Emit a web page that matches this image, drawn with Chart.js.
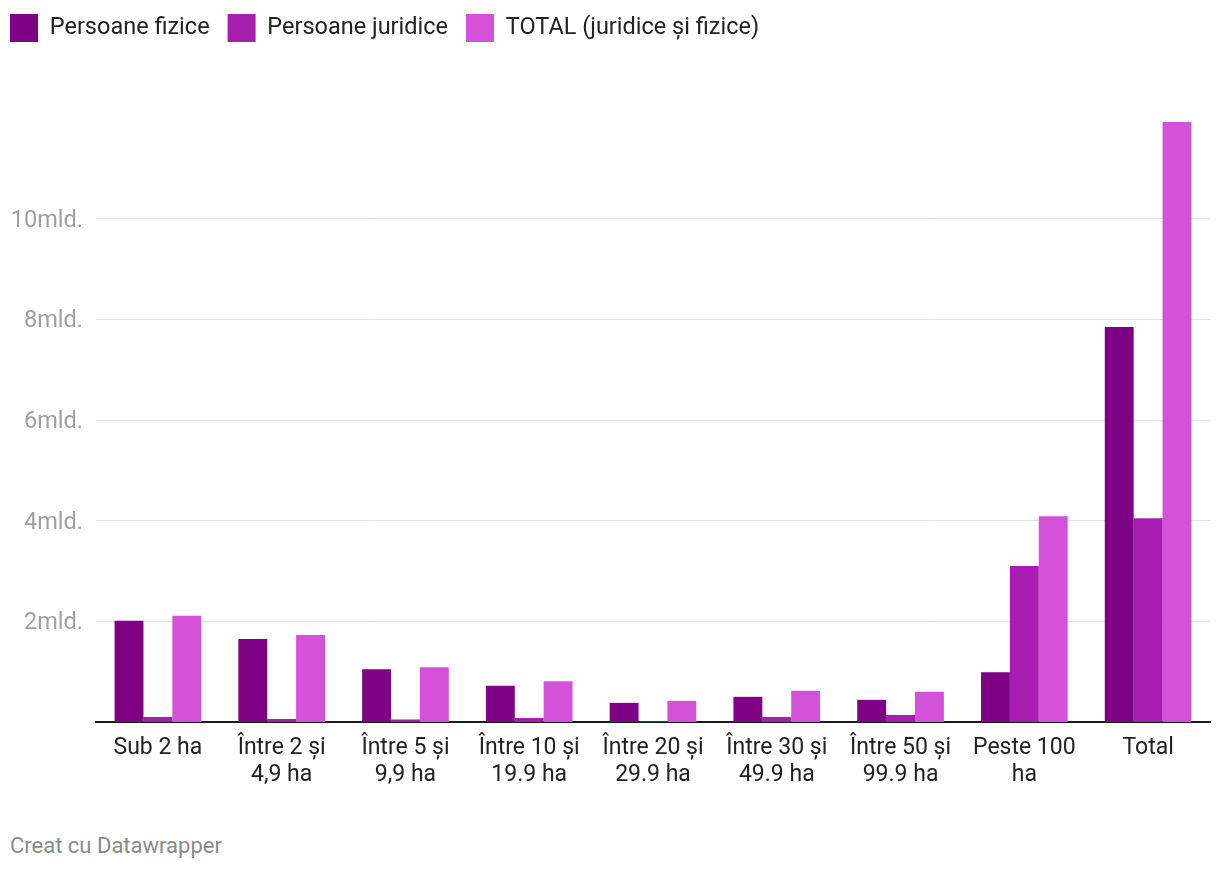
<!DOCTYPE html>
<html lang="ro">
<head>
    <meta charset="UTF-8">
    <title>Persoane fizice și juridice</title>
    <script src="https://cdn.jsdelivr.net/npm/chart.js"></script>
    <style>
        body {
            margin: 0;
            background: #ffffff;
            font-family: Roboto, 'Noto Sans', sans-serif;
            overflow: hidden;
        }
        .chart-wrap {
            position: absolute;
            left: -8px;
            top: -4px;
            width: 1228px;
            height: 796px;
        }
        .footer {
            position: absolute;
            left: 10px;
            top: 833px;
            font-size: 22px;
            color: #8a8a8a;
        }
    </style>
</head>
<body>
    <div class="chart-wrap">
        <canvas id="chart"></canvas>
    </div>
    <div class="footer">Creat cu Datawrapper</div>

    <script>
        // categories (x axis)
        const categories = [
            'Sub 2 ha',
            ['Între 2 și', '4,9 ha'],
            ['Între 5 și', '9,9 ha'],
            ['Între 10 și', '19.9 ha'],
            ['Între 20 și', '29.9 ha'],
            ['Între 30 și', '49.9 ha'],
            ['Între 50 și', '99.9 ha'],
            ['Peste 100', 'ha'],
            'Total'
        ];

        // values in mld.
        const persoaneFizice   = [2.01, 1.65, 1.05, 0.72, 0.38, 0.50, 0.44, 0.99, 7.85];
        const persoaneJuridice = [0.10, 0.06, 0.05, 0.08, 0.01, 0.10, 0.14, 3.10, 4.05];
        const totalJF          = [2.11, 1.73, 1.09, 0.81, 0.42, 0.62, 0.60, 4.09, 11.92];

        const yTicks = [2, 4, 6, 8, 10];

        // push the plot down below the legend
        const legendSpace = {
            id: 'legendSpace',
            beforeInit(chart) {
                const fit = chart.legend.fit;
                chart.legend.fit = function () {
                    fit.bind(chart.legend)();
                    this.height = 122;
                };
            }
        };

        const ctx = document.getElementById('chart').getContext('2d');
        new Chart(ctx, {
            type: 'bar',
            data: {
                labels: categories,
                datasets: [
                    { label: 'Persoane fizice', data: persoaneFizice, backgroundColor: '#7e0084' },
                    { label: 'Persoane juridice', data: persoaneJuridice, backgroundColor: '#a71db0' },
                    { label: 'TOTAL (juridice și fizice)', data: totalJF, backgroundColor: '#d452d9' }
                ]
            },
            plugins: [legendSpace],
            options: {
                responsive: true,
                maintainAspectRatio: false,
                animation: false,
                layout: { padding: { left: 0, right: 10, top: 0, bottom: 0 } },
                datasets: {
                    bar: { barPercentage: 1.0, categoryPercentage: 0.7, borderWidth: 0 }
                },
                plugins: {
                    tooltip: { enabled: false },
                    legend: {
                        position: 'top',
                        align: 'start',
                        labels: {
                            boxWidth: 28,
                            boxHeight: 28,
                            padding: 18,
                            color: '#222222',
                            font: { family: 'Roboto', size: 23.5 }
                        }
                    }
                },
                scales: {
                    x: {
                        z: 1,
                        grid: { display: false, drawTicks: false },
                        border: { display: true, color: '#1a1a1a', width: 2 },
                        ticks: {
                            color: '#222222',
                            padding: 12,
                            maxRotation: 0,
                            autoSkip: false,
                            font: { family: 'Roboto', size: 23, lineHeight: 1.2 }
                        },
                        afterFit: s => { s.height = 70; }
                    },
                    y: {
                        min: 0,
                        max: 12,
                        afterBuildTicks: axis => {
                            axis.ticks = yTicks.map(v => ({ value: v }));
                        },
                        afterFit: s => { s.width = 104; },
                        grid: { color: '#e2e2e2', lineWidth: 1, drawTicks: false },
                        border: { display: false },
                        ticks: {
                            color: '#a0a0a0',
                            padding: 13,
                            labelOffset: 2,
                            font: { family: 'Roboto', size: 23.5 },
                            callback: v => v + 'mld.'
                        }
                    }
                }
            }
        });
    </script>
</body>
</html>
